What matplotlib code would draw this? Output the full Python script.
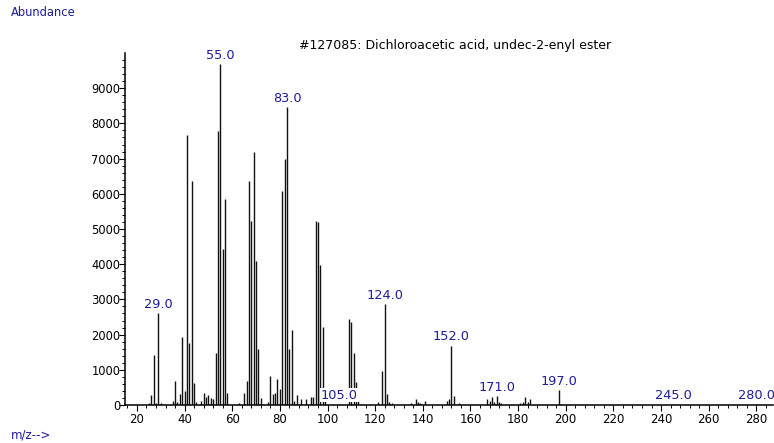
import matplotlib
matplotlib.use("Agg")
import matplotlib.pyplot as plt
from matplotlib.ticker import MultipleLocator, FixedLocator

plt.rcParams['font.family'] = ['DejaVu Sans']

# m/z values and abundances
mz = [25, 26, 27, 28, 29, 30, 35, 36, 37, 38, 39, 40, 41, 42, 43, 44, 45,
      47, 48, 49, 50, 51, 52, 53, 54, 55, 56, 57, 58,
      63, 65, 66, 67, 68, 69, 70, 71, 72, 73,
      75, 76, 77, 78, 79, 80, 81, 82, 83, 84, 85, 86, 87, 88, 89,
      91, 93, 94, 95, 96, 97, 98, 99,
      105, 109, 110, 111, 112, 113, 114,
      121, 123, 124, 125, 126, 127,
      132, 135, 137, 138, 139, 141,
      150, 151, 152, 153, 155,
      167, 168, 169, 170, 171, 172, 173,
      181, 182, 183, 184, 185,
      197, 198, 245, 280]
abundance = [60, 280, 1420, 50, 2620, 50, 100, 690, 80, 300, 1940, 390, 7670, 1770, 6360, 620, 80,
             100, 330, 220, 280, 190, 160, 1490, 7770, 9690, 4430, 5860, 340,
             50, 330, 680, 6360, 5230, 7200, 4100, 1580, 200, 40,
             80, 810, 300, 340, 745, 460, 6080, 6990, 8470, 1590, 2130, 120, 280, 40, 180,
             170, 220, 220, 5230, 5200, 3980, 2210, 130,
             40, 2430, 2370, 1490, 640, 100, 40,
             80, 975, 2870, 310, 80, 60,
             30, 50, 160, 90, 50, 120,
             100, 170, 1690, 255, 50,
             170, 115, 230, 95, 250, 75, 50,
             50, 95, 220, 75, 160,
             425, 30, 40, 20]

# labelled peaks
label_mz = [29, 55, 83, 105, 124, 152, 171, 197, 245, 280]

x_ticks = list(range(20, 281, 20))
y_ticks = list(range(0, 9001, 1000))

title = "#127085: Dichloroacetic acid, undec-2-enyl ester"
y_label = "Abundance"
x_label = "m/z-->"

blue = '#1c1c9c'

fig = plt.figure(figsize=(7.74, 4.43), dpi=100)
ax = fig.add_axes([125/774, (443-405)/443, (773-125)/774, (405-53)/443])

ax.vlines(mz, 0, abundance, colors='#111111', linewidth=1.0, zorder=2)

lookup = dict(zip(mz, abundance))
for m in label_mz:
    ax.annotate(f"{m:.1f}", xy=(m, lookup[m]), xytext=(0, 1.5), textcoords='offset points',
                ha='center', va='bottom', color=blue, fontsize=9.3, annotation_clip=False,
                zorder=5, bbox=dict(boxstyle='square,pad=0.05', facecolor='white',
                                    edgecolor='none'))

ax.set_xlim(15, 287)
ax.set_ylim(0, 10000)

for s in ['top', 'right']:
    ax.spines[s].set_visible(False)
ax.spines['left'].set_linewidth(1.1)
ax.spines['bottom'].set_linewidth(1.1)

ax.set_xticks(x_ticks)
ax.set_yticks(y_ticks)
ax.xaxis.set_minor_locator(MultipleLocator(4))
ax.yaxis.set_minor_locator(FixedLocator(list(range(200, 10000, 200))))

ax.tick_params(axis='y', which='major', length=4.3, width=0.8, pad=-1, labelsize=8.3)
ax.tick_params(axis='y', which='minor', length=2.2, width=0.7)
ax.tick_params(axis='x', which='major', length=4, width=0.8, pad=2, labelsize=8.5)
ax.tick_params(axis='x', which='minor', length=2.5, width=0.7)

fig.text(455/774, 1 - 46/443, title, ha='center', va='center', fontsize=9, color='black')
fig.text(11/774, 1 - 12.5/443, y_label, ha='left', va='center', fontsize=8.3, color=blue)
fig.text(11/774, 1 - 434.5/443, x_label, ha='left', va='center', fontsize=8.5, color=blue)

fig.savefig('out.png', dpi=100)
